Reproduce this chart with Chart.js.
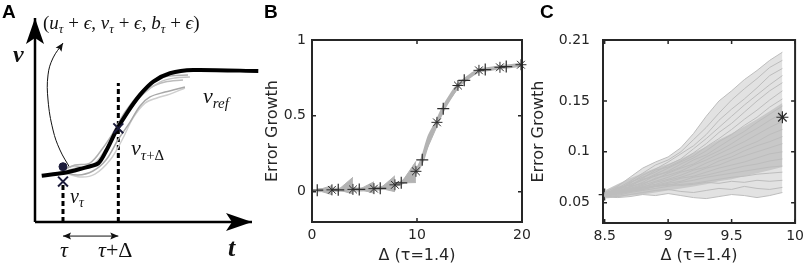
<!DOCTYPE html>
<html>
<head>
<meta charset="utf-8">
<script src="https://cdn.jsdelivr.net/npm/chart.js@4.4.1/dist/chart.umd.min.js"></script>
<style>
  body { margin: 0; background: #fff; }
  #wrap { position: relative; width: 809px; height: 267px; overflow: hidden; background: #fff; }
  canvas { position: absolute; top: 0; }
  .lbl { position: absolute; top: 2px; font: bold 19px 'Liberation Sans', Arial, sans-serif; line-height: 1; color: #000; }
  .m { position: absolute; line-height: 1; white-space: nowrap; font-family: 'Liberation Serif', 'DejaVu Serif', serif; font-style: italic; color: #111; }
  .m .s { font-size: 0.68em; position: relative; top: 0.32em; }
  .m .r { font-style: normal; }
</style>
</head>
<body>
<div id="wrap">
  <canvas id="chartA" width="262" height="267" style="left:0"></canvas>
  <canvas id="chartB" width="280" height="267" style="left:262px"></canvas>
  <canvas id="chartC" width="281" height="267" style="left:528px"></canvas>

  <div class="lbl" style="left:2px">A</div>
  <div class="lbl" style="left:264px">B</div>
  <div class="lbl" style="left:540px">C</div>

  <!-- panel A annotations -->
  <div class="m" style="left:43px;top:13px;font-size:19px"><span class="r">(</span>u<span class="s">τ</span> <span class="r">+</span> ϵ<span class="r">,</span> v<span class="s">τ</span> <span class="r">+</span> ϵ<span class="r">,</span> b<span class="s">τ</span> <span class="r">+</span> ϵ<span class="r">)</span></div>
  <div class="m" style="left:13px;top:42px;font-size:24px;font-weight:bold">v</div>
  <div class="m" style="left:228px;top:235px;font-size:26px;font-weight:bold">t</div>
  <div class="m" style="left:60px;top:239px;font-size:22px">τ</div>
  <div class="m" style="left:98px;top:239px;font-size:22px">τ<span class="r">+Δ</span></div>
  <div class="m" style="left:203px;top:85px;font-size:22px">v<span class="s">ref</span></div>
  <div class="m" style="left:131px;top:137px;font-size:22px">v<span class="s">τ<span class="r">+Δ</span></span></div>
  <div class="m" style="left:70px;top:186px;font-size:20px">v<span class="s">τ</span></div>
</div>

<script>
// ---------- Panel A (schematic, arbitrary units: t 0..10, v 0..10) ----------
const aAxisT = [0, 10];
const aAxisV = [0, 10];
const aRefT = [0.31, 1.30, 2.07, 2.92, 3.30, 3.76, 4.23, 4.84, 5.45, 6.22, 7.29, 10.29];
const aRefV = [2.27, 2.40, 2.60, 2.88, 3.53, 4.51, 5.33, 6.23, 6.88, 7.29, 7.45, 7.40];
const aPertT = [
  [1.29, 1.84, 2.53, 3.13, 3.59, 4.15, 4.84, 5.53, 6.22, 7.05],
  [1.29, 1.89, 2.63, 3.23, 3.73, 4.29, 4.93, 5.76, 6.45, 7.14],
  [1.29, 1.98, 2.67, 3.27, 3.82, 4.38, 4.84, 5.30, 5.99, 6.91],
  [1.29, 2.07, 2.76, 3.46, 4.01, 4.52, 5.07, 5.62, 6.22, 6.91],
  [1.29, 1.80, 2.44, 3.00, 3.46, 4.01, 4.61, 5.30, 5.99, 6.82]
];
const aPertV = [
  [2.55, 2.79, 2.89, 3.63, 4.36, 5.39, 6.32, 6.96, 7.16, 7.21],
  [2.45, 2.65, 2.75, 3.53, 4.41, 5.39, 6.23, 6.86, 7.06, 7.11],
  [2.45, 2.30, 2.50, 3.04, 4.02, 4.90, 5.69, 6.13, 6.37, 6.62],
  [2.45, 2.21, 2.35, 3.04, 4.02, 5.10, 5.83, 6.08, 6.27, 6.57],
  [2.55, 2.75, 2.65, 3.14, 3.92, 4.90, 5.83, 6.57, 6.86, 6.96]
];
const aPertColors = ['#b0b0b0', '#c4c4c4', '#a8a8a8', '#cfcfcf', '#bcbcbc'];
const aTau = 1.29;
const aTauDelta = 3.84;
const aMarkV = [1.98, 4.59];      // crosses at tau and tau+Delta
const aDotV = 2.71;
const aDashTop = [1.81, 6.81];
const aCurlT = [1.61, 1.15, 0.83, 0.60, 0.60, 0.83, 1.29];
const aCurlV = [2.65, 3.53, 4.51, 5.98, 7.21, 8.04, 8.77];
const aSpanV = -0.69;

// ---------- Panel B ----------
const bXTicks = [0, 10, 20];
const bYTicks = [0, 0.5, 1];
const bStartX = [0.5, 2.5, 4.5, 6.5, 8.5, 10.5, 12.5, 14.5, 16.5, 18.5];
const bStartY = [0.010, 0.012, 0.015, 0.022, 0.058, 0.210, 0.547, 0.734, 0.805, 0.825];
const bEndX = [1.9, 3.9, 5.9, 7.9, 9.9, 11.9, 13.9, 15.9, 17.9, 19.9];
const bEndY = [0.012, 0.015, 0.020, 0.045, 0.134, 0.457, 0.700, 0.800, 0.820, 0.837];
const bEndHi = [0.040, 0.095, 0.065, 0.105, 0.200, 0.480, 0.715, 0.812, 0.830, 0.845];
const bEndLo = [-0.020, -0.015, -0.010, 0.000, 0.060, 0.430, 0.680, 0.790, 0.812, 0.830];
const bMeanX = [0.5, 1.9, 2.5, 3.9, 4.5, 5.9, 6.5, 7.9, 8.5, 9.9, 10.5, 11.2, 11.9, 12.5, 13.2, 13.9, 14.5, 15.2, 15.9, 16.5, 17.2, 17.9, 18.5, 19.2, 19.9];
const bMeanY = [0.010, 0.012, 0.012, 0.015, 0.015, 0.020, 0.022, 0.045, 0.058, 0.134, 0.210, 0.365, 0.457, 0.547, 0.628, 0.700, 0.734, 0.770, 0.800, 0.805, 0.812, 0.820, 0.825, 0.830, 0.837];

// ---------- Panel C ----------
const cXTicks = [8.5, 9, 9.5, 10];
const cYTicks = [0.05, 0.1, 0.15, 0.21];
const cX = [8.5, 8.6, 8.7, 8.8, 8.9, 9.0, 9.1, 9.2, 9.3, 9.4, 9.5, 9.6, 9.7, 9.8, 9.9];
const cRuns = [
  [0.060, 0.066, 0.075, 0.084, 0.090, 0.095, 0.104, 0.118, 0.135, 0.150, 0.160, 0.171, 0.180, 0.190, 0.198],
  [0.058, 0.064, 0.071, 0.079, 0.087, 0.092, 0.100, 0.112, 0.124, 0.138, 0.151, 0.162, 0.172, 0.183, 0.190],
  [0.059, 0.063, 0.069, 0.077, 0.083, 0.090, 0.098, 0.106, 0.117, 0.131, 0.142, 0.152, 0.163, 0.175, 0.182],
  [0.057, 0.062, 0.070, 0.075, 0.080, 0.087, 0.093, 0.103, 0.113, 0.124, 0.135, 0.146, 0.156, 0.166, 0.175],
  [0.058, 0.065, 0.067, 0.074, 0.082, 0.085, 0.091, 0.099, 0.108, 0.119, 0.128, 0.139, 0.150, 0.160, 0.168],
  [0.060, 0.062, 0.068, 0.072, 0.078, 0.084, 0.090, 0.096, 0.105, 0.113, 0.122, 0.132, 0.141, 0.151, 0.160],
  [0.057, 0.061, 0.066, 0.073, 0.076, 0.081, 0.088, 0.094, 0.101, 0.110, 0.117, 0.126, 0.134, 0.144, 0.152],
  [0.059, 0.064, 0.065, 0.070, 0.077, 0.080, 0.085, 0.092, 0.097, 0.105, 0.113, 0.120, 0.129, 0.137, 0.145],
  [0.058, 0.060, 0.066, 0.069, 0.073, 0.079, 0.084, 0.088, 0.095, 0.101, 0.108, 0.116, 0.123, 0.131, 0.138],
  [0.057, 0.062, 0.064, 0.068, 0.074, 0.077, 0.081, 0.087, 0.092, 0.098, 0.104, 0.110, 0.117, 0.124, 0.130],
  [0.058, 0.059, 0.063, 0.067, 0.071, 0.075, 0.080, 0.083, 0.089, 0.094, 0.099, 0.105, 0.110, 0.117, 0.122],
  [0.057, 0.060, 0.064, 0.065, 0.070, 0.073, 0.077, 0.082, 0.085, 0.091, 0.095, 0.101, 0.106, 0.110, 0.115],
  [0.059, 0.061, 0.062, 0.066, 0.068, 0.072, 0.075, 0.079, 0.084, 0.087, 0.092, 0.096, 0.100, 0.104, 0.108],
  [0.056, 0.059, 0.063, 0.064, 0.067, 0.070, 0.074, 0.076, 0.080, 0.084, 0.087, 0.090, 0.094, 0.098, 0.100],
  [0.058, 0.058, 0.061, 0.065, 0.066, 0.069, 0.071, 0.075, 0.077, 0.080, 0.083, 0.086, 0.088, 0.091, 0.093],
  [0.057, 0.060, 0.062, 0.063, 0.066, 0.067, 0.070, 0.072, 0.075, 0.077, 0.079, 0.081, 0.083, 0.085, 0.086],
  [0.056, 0.057, 0.060, 0.062, 0.064, 0.066, 0.068, 0.069, 0.071, 0.073, 0.075, 0.076, 0.078, 0.079, 0.080],
  [0.058, 0.059, 0.061, 0.063, 0.066, 0.068, 0.067, 0.068, 0.070, 0.069, 0.071, 0.070, 0.072, 0.071, 0.072],
  [0.057, 0.056, 0.058, 0.060, 0.062, 0.063, 0.061, 0.060, 0.062, 0.064, 0.063, 0.066, 0.064, 0.063, 0.065],
  [0.056, 0.055, 0.056, 0.058, 0.057, 0.059, 0.057, 0.055, 0.054, 0.056, 0.058, 0.057, 0.055, 0.057, 0.060]
];
const cCoreHi = [0.062, 0.068, 0.074, 0.079, 0.084, 0.088, 0.093, 0.099, 0.105, 0.112, 0.118, 0.125, 0.132, 0.140, 0.148];
const cCoreLo = [0.054, 0.055, 0.057, 0.058, 0.060, 0.062, 0.064, 0.066, 0.068, 0.071, 0.073, 0.076, 0.079, 0.082, 0.085];
const cStart = [8.5, 0.058];
const cMean = [9.9, 0.134];

// ---------- shared setup ----------
Chart.defaults.font.family = "'DejaVu Sans', sans-serif";
Chart.defaults.color = '#262626';
Chart.defaults.animation = false;
Chart.defaults.events = [];
Chart.defaults.plugins.legend.display = false;
Chart.defaults.plugins.tooltip.enabled = false;

const AXIS_COLOR = '#262626';
const toPoints = (xs, ys) => xs.map((x, i) => ({ x: x, y: ys[i] }));

function drawHead(ctx, tip, from, len, half, notch) {
    const ang = Math.atan2(tip.y - from.y, tip.x - from.x);
    ctx.save();
    ctx.translate(tip.x, tip.y);
    ctx.rotate(ang);
    ctx.beginPath();
    ctx.moveTo(0, 0);
    ctx.lineTo(-len, -half);
    ctx.lineTo(-len + notch, 0);
    ctx.lineTo(-len, half);
    ctx.closePath();
    ctx.fill();
    ctx.restore();
}

// arrow heads for datasets that ask for them (heads: {start, end, len, half, notch})
const arrowPlugin = {
    id: 'arrowHeads',
    afterDatasetsDraw(chart) {
        const ctx = chart.ctx;
        chart.data.datasets.forEach((ds, i) => {
            const h = ds.heads;
            if (!h) return;
            const el = chart.getDatasetMeta(i).data;
            ctx.fillStyle = ds.borderColor;
            if (h.end) drawHead(ctx, el[el.length - 1], el[el.length - 2], h.len, h.half, h.notch);
            if (h.start) drawHead(ctx, el[0], el[1], h.len, h.half, h.notch);
        });
    }
};

// MATLAB-like box with inward tick marks on all four sides
const boxPlugin = {
    id: 'boxTicks',
    afterDatasetsDraw(chart) {
        const { ctx, chartArea: a, scales } = chart;
        ctx.save();
        ctx.strokeStyle = AXIS_COLOR;
        ctx.lineWidth = 1.5;
        ctx.beginPath();
        scales.x.ticks.forEach(t => {
            const p = scales.x.getPixelForValue(t.value);
            ctx.moveTo(p, a.bottom); ctx.lineTo(p, a.bottom - 4);
            ctx.moveTo(p, a.top); ctx.lineTo(p, a.top + 4);
        });
        scales.y.ticks.forEach(t => {
            const p = scales.y.getPixelForValue(t.value);
            ctx.moveTo(a.left, p); ctx.lineTo(a.left + 4, p);
            ctx.moveTo(a.right, p); ctx.lineTo(a.right - 4, p);
        });
        ctx.stroke();
        ctx.lineWidth = 2;
        ctx.strokeRect(a.left, a.top, a.right - a.left, a.bottom - a.top);
        ctx.restore();
    }
};

function axisX(min, max, ticks, height, label) {
    return {
        type: 'linear', min: min, max: max,
        afterBuildTicks: s => { s.ticks = ticks.map(v => ({ value: v })); },
        afterFit: s => { s.height = height; },
        grid: { display: false, drawTicks: false },
        border: { display: false },
        ticks: { font: { size: 14 }, padding: 5, maxRotation: 0, autoSkip: false, color: AXIS_COLOR,
                 callback: v => String(v) },
        title: { display: true, text: label, color: AXIS_COLOR, font: { size: 16, lineHeight: 1 }, padding: { top: 0, bottom: 3 } }
    };
}

function axisY(min, max, ticks, width, pad, label) {
    return {
        type: 'linear', min: min, max: max,
        afterBuildTicks: s => { s.ticks = ticks.map(v => ({ value: v })); },
        afterFit: s => { s.width = width; },
        grid: { display: false, drawTicks: false },
        border: { display: false },
        ticks: { font: { size: 14 }, padding: pad, autoSkip: false, color: AXIS_COLOR,
                 callback: v => String(v) },
        title: { display: true, text: label, color: AXIS_COLOR, font: { size: 16, lineHeight: 1 }, padding: { top: 2.5, bottom: 0 } }
    };
}

// ---------- chart A ----------
const navy = '#1b1b3a';
const aSets = [
    { data: [{ x: aTau, y: aMarkV[0] }, { x: aTauDelta, y: aMarkV[1] }], showLine: false, pointStyle: 'crossRot', pointRadius: 7, borderColor: navy, borderWidth: 2 },
    { data: [{ x: aTau, y: aDotV }], showLine: false, pointStyle: 'circle', pointRadius: 4, backgroundColor: navy, borderColor: navy },
    { data: toPoints(aRefT, aRefV), borderColor: '#000', borderWidth: 4, tension: 0.25, pointRadius: 0, clip: false },
];
aPertT.forEach((ts, k) => {
    aSets.push({ data: toPoints(ts, aPertV[k]), borderColor: aPertColors[k], borderWidth: 1.5, tension: 0.35, pointRadius: 0 });
});
aSets.push(
    { data: [{ x: aTau, y: 0 }, { x: aTau, y: aDashTop[0] }], borderColor: '#000', borderWidth: 3, borderDash: [5, 3], pointRadius: 0 },
    { data: [{ x: aTauDelta, y: 0 }, { x: aTauDelta, y: aDashTop[1] }], borderColor: '#000', borderWidth: 3, borderDash: [5, 3], pointRadius: 0 },
    { data: toPoints(aCurlT, aCurlV), borderColor: '#111', borderWidth: 1, tension: 0.4, pointRadius: 0, clip: false,
      heads: { end: true, len: 8, half: 3.5, notch: 1.5 } },
    { data: [{ x: aTau, y: aSpanV }, { x: aTauDelta, y: aSpanV }], borderColor: '#111', borderWidth: 1, pointRadius: 0, clip: false,
      heads: { start: true, end: true, len: 8, half: 3.5, notch: 1.5 } },
    { data: [{ x: aAxisT[0], y: 0 }, { x: aAxisT[1], y: 0 }], borderColor: '#000', borderWidth: 2.5, pointRadius: 0, clip: false,
      heads: { end: true, len: 26, half: 9, notch: 6 } },
    { data: [{ x: 0, y: aAxisV[0] }, { x: 0, y: aAxisV[1] }], borderColor: '#000', borderWidth: 2.5, pointRadius: 0, clip: false,
      heads: { end: true, len: 26, half: 9, notch: 6 } }
);

new Chart(document.getElementById('chartA'), {
    type: 'line',
    data: { datasets: aSets },
    options: {
        responsive: false,
        layout: { padding: { left: 35, right: 10, top: 18, bottom: 45 } },
        scales: {
            x: { type: 'linear', min: aAxisT[0], max: aAxisT[1], display: false },
            y: { type: 'linear', min: aAxisV[0], max: aAxisV[1], display: false }
        }
    },
    plugins: [arrowPlugin]
});

// ---------- chart B ----------
const markColor = '#2b2b2b';
const bGray = '#b3b3b3';
const bSets = [
    { data: toPoints(bEndX, bEndY), showLine: false, pointStyle: 'star', pointRadius: 5.5, borderColor: markColor, borderWidth: 1, clip: false },
    { data: toPoints(bStartX, bStartY), showLine: false, pointStyle: 'cross', pointRadius: 6, borderColor: markColor, borderWidth: 1.2, clip: false },
    { data: toPoints(bMeanX, bMeanY), borderColor: bGray, borderWidth: 4, tension: 0.3, pointRadius: 0 }
];
bStartX.forEach((sx, k) => {
    bSets.push({ data: [{ x: sx, y: bStartY[k] }, { x: bEndX[k], y: bEndHi[k] }], borderColor: bGray, borderWidth: 1, pointRadius: 0 });
    bSets.push({ data: [{ x: sx, y: bStartY[k] }, { x: bEndX[k], y: bEndLo[k] }], borderColor: bGray, borderWidth: 1, pointRadius: 0,
                 fill: '-1', backgroundColor: bGray });
});

new Chart(document.getElementById('chartB'), {
    type: 'line',
    data: { datasets: bSets },
    options: {
        responsive: false,
        layout: { padding: { left: 0, right: 20, top: 40, bottom: 0 } },
        scales: {
            x: axisX(0, 20, bXTicks, 45, 'Δ (τ=1.4)'),
            y: axisY(-0.2, 1, bYTicks, 50, 6, 'Error Growth')
        }
    },
    plugins: [boxPlugin]
});

// ---------- chart C ----------
const cTop = cRuns[0];
const cBottom = cRuns[cRuns.length - 1];
const cSets = [
    { data: [{ x: cMean[0], y: cMean[1] }], showLine: false, pointStyle: 'star', pointRadius: 6, borderColor: markColor, borderWidth: 1.2, clip: false }
];
cRuns.forEach(run => {
    cSets.push({ data: toPoints(cX, run), borderColor: '#bdbdbd', borderWidth: 1, tension: 0, pointRadius: 0 });
});
cSets.push(
    { data: toPoints(cX, cCoreHi), borderColor: 'rgba(0,0,0,0)', borderWidth: 0, pointRadius: 0 },
    { data: toPoints(cX, cCoreLo), borderColor: 'rgba(0,0,0,0)', borderWidth: 0, pointRadius: 0, fill: '-1', backgroundColor: '#c8c8c8' },
    { data: toPoints(cX, cTop), borderColor: 'rgba(0,0,0,0)', borderWidth: 0, pointRadius: 0 },
    { data: toPoints(cX, cBottom), borderColor: 'rgba(0,0,0,0)', borderWidth: 0, pointRadius: 0, fill: '-1', backgroundColor: '#e2e2e2' },
    { data: [{ x: cStart[0], y: cStart[1] }], showLine: false, pointStyle: 'cross', pointRadius: 6, borderColor: markColor, borderWidth: 1.2, clip: false }
);

new Chart(document.getElementById('chartC'), {
    type: 'line',
    data: { datasets: cSets },
    options: {
        responsive: false,
        layout: { padding: { left: 0, right: 10, top: 40, bottom: 0 } },
        scales: {
            x: axisX(8.487, 10, cXTicks, 44, 'Δ (τ=1.4)'),
            y: axisY(0.03, 0.21, cYTicks, 75, 13, 'Error Growth')
        }
    },
    plugins: [boxPlugin]
});
</script>
</body>
</html>
